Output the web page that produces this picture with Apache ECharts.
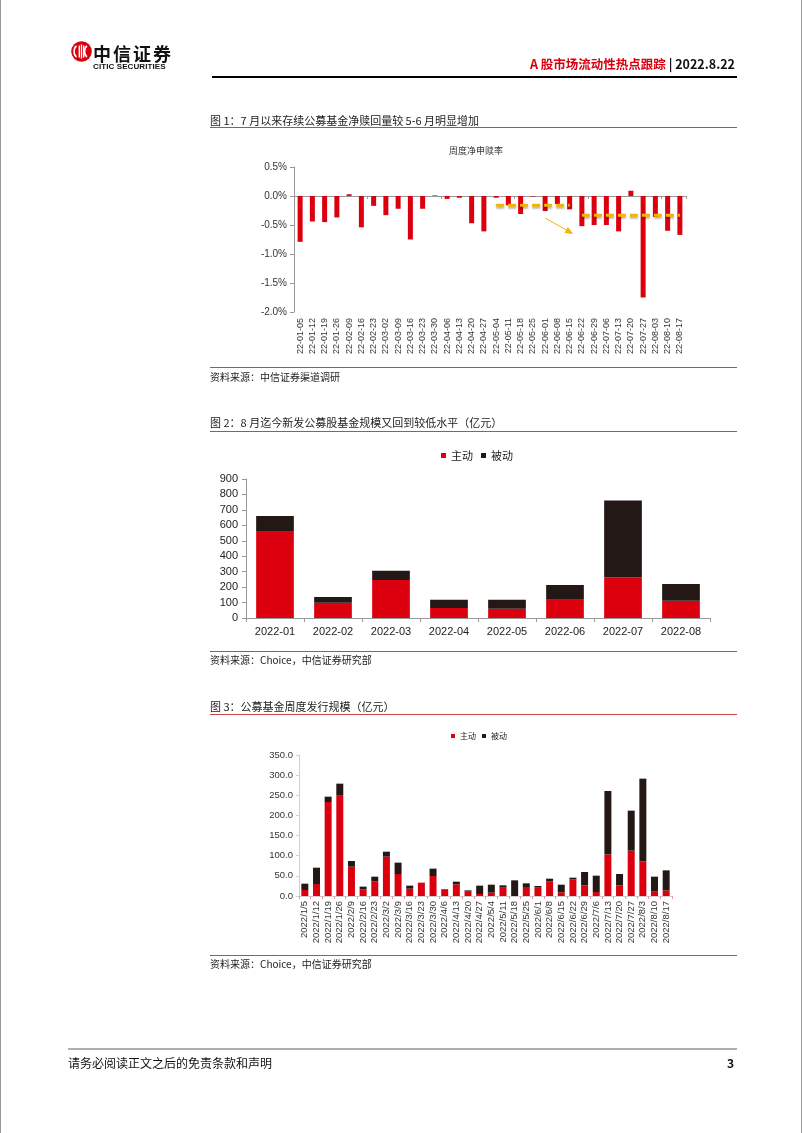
<!DOCTYPE html>
<html><head><meta charset="utf-8">
<script src="https://cdn.jsdelivr.net/npm/echarts/dist/echarts.min.js"></script>
<style>
body{margin:0;background:#fff;}
#page{position:relative;width:802px;height:1133px;overflow:hidden;font-family:"Noto Sans CJK SC","Liberation Sans",sans-serif;color:#222;background:#fff;}
#chart{position:absolute;left:0;top:0;width:802px;height:1133px;}
.t{position:absolute;white-space:nowrap;line-height:1;z-index:2;}
.ln{position:absolute;z-index:2;}
</style></head>
<body><div id="page">
<div id="chart"></div>
<div class="ln" style="left:0;top:0;width:1px;height:1133px;background:#9a9a9a"></div>
<div class="ln" style="left:801px;top:0;width:1px;height:1133px;background:#9a9a9a"></div>
<svg class="ln" style="left:71px;top:41px" width="21" height="21" viewBox="0 0 21 21">
<circle cx="10.5" cy="10.5" r="10.3" fill="#d7000f"/>
<path d="M5.5 5 A4 6 0 0 0 5.5 16" stroke="#fff" stroke-width="1.6" fill="none"/>
<line x1="8.3" y1="4.5" x2="8.3" y2="16.5" stroke="#fff" stroke-width="1.4"/>
<line x1="10.5" y1="3.5" x2="10.5" y2="17.5" stroke="#fff" stroke-width="1.4"/>
<line x1="12.7" y1="4.5" x2="12.7" y2="16.5" stroke="#fff" stroke-width="1.4"/>
<path d="M16 5 A4 6 0 0 0 16 16" stroke="#fff" stroke-width="1.6" fill="none"/>
</svg>
<div class="t" style="left:93px;top:44px;font-size:18px;font-weight:bold;letter-spacing:2px;color:#111">中信证券</div>
<div class="t" style="left:93px;top:63px;font-size:8px;font-weight:bold;font-family:'Liberation Sans Narrow','Liberation Sans',Arial;color:#111;letter-spacing:0.1px">CITIC SECURITIES</div>
<div class="t" style="right:67px;top:58px;font-size:12.5px;font-weight:bold;"><span style="color:#d7000f">A&nbsp;股市场流动性热点跟踪</span><span style="color:#111">&nbsp;|&nbsp;2022.8.22</span></div>
<div class="ln" style="left:212px;top:76px;width:525px;height:2px;background:#000"></div>

<div class="t" style="left:210px;top:115px;font-size:11px;">图 1：7 月以来存续公募基金净赎回量较 5-6 月明显增加</div>
<div class="ln" style="left:210px;top:127px;width:527px;height:1px;background:#c8464a"></div>
<div class="ln" style="left:210px;top:367px;width:527px;height:1px;background:#c8464a"></div>
<div class="t" style="left:210px;top:372px;font-size:10px;">资料来源：中信证券渠道调研</div>

<div class="t" style="left:210px;top:417px;font-size:11px;">图 2：8 月迄今新发公募股基金规模又回到较低水平（亿元）</div>
<div class="ln" style="left:210px;top:431px;width:527px;height:1px;background:#c8464a"></div>
<div class="ln" style="left:210px;top:651px;width:527px;height:1px;background:#c8464a"></div>
<div class="t" style="left:210px;top:655px;font-size:10px;">资料来源：Choice，中信证券研究部</div>

<div class="t" style="left:210px;top:701px;font-size:11px;">图 3：公募基金周度发行规模（亿元）</div>
<div class="ln" style="left:210px;top:714px;width:527px;height:1px;background:#c8464a"></div>
<div class="ln" style="left:210px;top:955px;width:527px;height:1px;background:#c8464a"></div>
<div class="t" style="left:210px;top:959px;font-size:10px;">资料来源：Choice，中信证券研究部</div>

<div class="ln" style="left:68px;top:1048px;width:669px;height:2px;background:#b0b0b0"></div>
<div class="t" style="left:68px;top:1057px;font-size:12px;color:#111">请务必阅读正文之后的免责条款和声明</div>
<div class="t" style="right:68px;top:1057px;font-size:12px;font-weight:bold;color:#111">3</div>
</div>
<script>
// ---- Chart 1: weekly net subscription/redemption rate (%) ----
const weeks1 = ['22-01-05','22-01-12','22-01-19','22-01-26','22-02-09','22-02-16','22-02-23','22-03-02','22-03-09','22-03-16','22-03-23','22-03-30','22-04-06','22-04-13','22-04-20','22-04-27','22-05-04','22-05-11','22-05-18','22-05-25','22-06-01','22-06-08','22-06-15','22-06-22','22-06-29','22-07-06','22-07-13','22-07-20','22-07-27','22-08-03','22-08-10','22-08-17'];
const netRate = [-0.79,-0.44,-0.45,-0.37,0.03,-0.54,-0.17,-0.33,-0.22,-0.75,-0.22,0.01,-0.05,-0.03,-0.47,-0.61,-0.03,-0.16,-0.31,-0.01,-0.26,-0.14,-0.23,-0.52,-0.50,-0.50,-0.61,0.09,-1.75,-0.36,-0.60,-0.67];
const mayJuneAvg = [null,null,null,null,null,null,null,null,null,null,null,null,null,null,null,null,-0.16,-0.16,-0.16,-0.16,-0.16,-0.16,-0.16,null,null,null,null,null,null,null,null,null];
const julAugAvg = [null,null,null,null,null,null,null,null,null,null,null,null,null,null,null,null,null,null,null,null,null,null,null,-0.33,-0.33,-0.33,-0.33,-0.33,-0.33,-0.33,-0.33,-0.33];
const yTicks1 = {min:-2.0, max:0.5, step:0.5};

// ---- Chart 2: monthly new equity fund issuance (100m CNY) ----
const months2 = ['2022-01','2022-02','2022-03','2022-04','2022-05','2022-06','2022-07','2022-08'];
const active2 = [558,99,246,65,60,118,263,112];
const passive2 = [102,37,60,53,58,95,498,108];
const yTicks2 = {min:0, max:900, step:100};

// ---- Chart 3: weekly fund issuance (100m CNY) ----
const weeks3 = ['2022/1/5','2022/1/12','2022/1/19','2022/1/26','2022/2/9','2022/2/16','2022/2/23','2022/3/2','2022/3/9','2022/3/16','2022/3/23','2022/3/30','2022/4/6','2022/4/13','2022/4/20','2022/4/27','2022/5/4','2022/5/11','2022/5/18','2022/5/25','2022/6/1','2022/6/8','2022/6/15','2022/6/22','2022/6/29','2022/7/6','2022/7/13','2022/7/20','2022/7/27','2022/8/3','2022/8/10','2022/8/17'];
const active3 = [14.9,29.8,233.4,249.0,72.8,16.6,36.4,97.7,54.6,18.2,33.1,49.7,14.9,29.0,10.8,5.0,8.3,20.7,0.0,22.3,20.7,36.4,9.1,41.4,26.5,9.9,103.4,26.5,112.6,86.0,10.8,14.0];
const passive3 = [15.7,40.5,13.2,29.9,14.1,6.6,11.6,12.3,28.2,7.5,0.0,18.2,1.7,6.6,3.2,20.7,19.8,5.8,38.9,9.1,4.1,6.6,19.0,4.1,33.1,40.6,157.3,28.1,99.3,205.3,37.2,49.7];
const yTicks3 = {min:0, max:350, step:50};

const RED = '#dc000f', BLACK = '#231815', GOLD = '#f5b400';
const FONT = 'Arial, "Liberation Sans", sans-serif';
const CJK = '"Noto Sans CJK SC", sans-serif';

const chart = echarts.init(document.getElementById('chart'), null, {renderer:'canvas'});
const option = {
  animation:false,
  title:{text:'周度净申赎率', left:444, top:141, textStyle:{fontSize:9, fontWeight:'normal', color:'#333', fontFamily:CJK}},
  legend:[
    {data:['主动','被动'], left:436, top:445, icon:'rect', itemWidth:5, itemHeight:5, itemGap:8,
     textStyle:{fontSize:11, color:'#222', fontFamily:CJK}},
    {data:['主动','被动'], left:446, top:727, icon:'rect', itemWidth:4, itemHeight:4, itemGap:6,
     textStyle:{fontSize:8, color:'#222', fontFamily:CJK}}
  ],
  grid:[
    {left:294, top:167, width:392, height:145},
    {left:246, top:479, width:464, height:139},
    {left:299, top:755, width:373, height:141}
  ],
  xAxis:[
    {gridIndex:0, type:'category', data:weeks1, position:'bottom',
     axisLine:{show:false, onZero:false}, axisTick:{show:false},
     axisLabel:{rotate:90, interval:0, fontSize:9, color:'#333', margin:6, fontFamily:FONT}},
    {gridIndex:0, type:'category', data:weeks1, position:'bottom',
     axisLine:{show:true, onZero:true, lineStyle:{color:'#999', width:1}},
     axisTick:{show:true, length:3, lineStyle:{color:'#999'}}, axisLabel:{show:false}},
    {gridIndex:1, type:'category', data:months2,
     axisLine:{lineStyle:{color:'#999'}}, axisTick:{show:true, length:4, lineStyle:{color:'#999'}},
     axisLabel:{fontSize:11, color:'#222', margin:8, fontFamily:FONT}},
    {gridIndex:2, type:'category', data:weeks3,
     axisLine:{lineStyle:{color:'#d0d0d0'}}, axisTick:{show:true, length:3, lineStyle:{color:'#e3a0a0'}},
     axisLabel:{rotate:90, interval:0, fontSize:9.5, color:'#333', margin:5, fontFamily:FONT}}
  ],
  yAxis:[
    {gridIndex:0, type:'value', min:yTicks1.min, max:yTicks1.max, interval:yTicks1.step,
     axisLine:{show:true, lineStyle:{color:'#999'}}, axisTick:{show:true, length:4, lineStyle:{color:'#999'}},
     splitLine:{show:false},
     axisLabel:{fontSize:10, color:'#333', margin:7, fontFamily:FONT, formatter:v=>v.toFixed(1)+'%'}},
    {gridIndex:1, type:'value', min:yTicks2.min, max:yTicks2.max, interval:yTicks2.step,
     axisLine:{show:true, lineStyle:{color:'#999'}}, axisTick:{show:true, length:4, lineStyle:{color:'#999'}},
     splitLine:{show:false},
     axisLabel:{fontSize:11, color:'#222', margin:8, fontFamily:FONT}},
    {gridIndex:2, type:'value', min:yTicks3.min, max:yTicks3.max, interval:yTicks3.step,
     axisLine:{show:true, lineStyle:{color:'#d0d0d0'}}, axisTick:{show:true, length:3, lineStyle:{color:'#d0d0d0'}},
     splitLine:{show:false},
     axisLabel:{fontSize:9.5, color:'#333', margin:6, fontFamily:FONT, formatter:v=>v.toFixed(1)}}
  ],
  series:[
    {name:'周度净申赎率', type:'bar', xAxisIndex:0, yAxisIndex:0, data:netRate, barWidth:5,
     itemStyle:{color:RED}},
    {name:'5-6月均值', type:'line', xAxisIndex:0, yAxisIndex:0, data:mayJuneAvg, symbol:'none',
     lineStyle:{color:GOLD, width:3, type:[8,4], shadowColor:'rgba(0,0,0,0.3)', shadowBlur:2, shadowOffsetY:2}},
    {name:'7-8月均值', type:'line', xAxisIndex:0, yAxisIndex:0, data:julAugAvg, symbol:'none',
     lineStyle:{color:GOLD, width:3, type:[8,4], shadowColor:'rgba(0,0,0,0.3)', shadowBlur:2, shadowOffsetY:2},
     markLine:{silent:true, symbol:['none','triangle'], symbolSize:[7,8], label:{show:false},
       lineStyle:{color:GOLD, width:1, type:'solid'},
       data:[[{coord:[weeks1[20], -0.38]},{coord:[weeks1[22], -0.62]}]]}},
    {name:'主动', type:'bar', stack:'m', xAxisIndex:2, yAxisIndex:1, data:active2, barWidth:'65%', itemStyle:{color:RED}},
    {name:'被动', type:'bar', stack:'m', xAxisIndex:2, yAxisIndex:1, data:passive2, barWidth:'65%', itemStyle:{color:BLACK}},
    {name:'主动', type:'bar', stack:'w', xAxisIndex:3, yAxisIndex:2, data:active3, barWidth:'60%', itemStyle:{color:RED}},
    {name:'被动', type:'bar', stack:'w', xAxisIndex:3, yAxisIndex:2, data:passive3, barWidth:'60%', itemStyle:{color:BLACK}}
  ]
};
chart.setOption(option);
</script>
</body></html>
